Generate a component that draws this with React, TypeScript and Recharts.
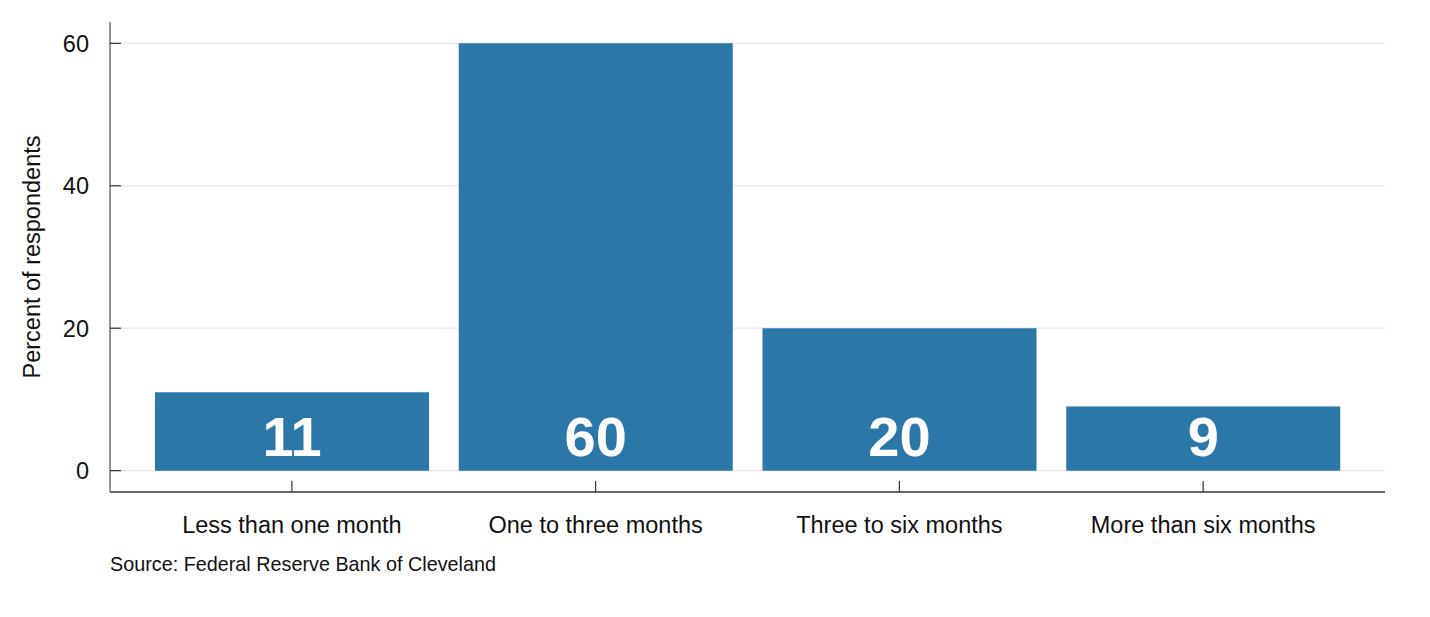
import React from "react";
import { BarChart, Bar, XAxis, YAxis, CartesianGrid, LabelList } from "recharts";

const categories = ["Less than one month", "One to three months", "Three to six months", "More than six months"];
const percents = [11, 60, 20, 9];
const yTicks = [0, 20, 40, 60];
const yDomain = [-3, 63];

const data = categories.map((c, i) => ({ name: c, value: percents[i] }));

const FONT = "Arial, 'Liberation Sans', Helvetica, sans-serif";
const BAR_COLOR = "#2a77a8";

const YTick = (props: any) => {
  const { x, y, payload } = props;
  return (
    <g>
      <line x1={x + 21} x2={x + 32} y1={y} y2={y} stroke="#333" strokeWidth={1.2} />
      <text x={x} y={y} dy="0.36em" textAnchor="end" fontSize={23.5} fontFamily={FONT} fill="#111">
        {payload.value}
      </text>
    </g>
  );
};

const XTick = (props: any) => {
  const { x, y, payload } = props;
  return (
    <g>
      <line x1={x} x2={x} y1={y} y2={y - 11} stroke="#333" strokeWidth={1.2} />
      <text x={x} y={y + 41} textAnchor="middle" fontSize={23.5} fontFamily={FONT} fill="#111">
        {payload.value}
      </text>
    </g>
  );
};

const BarValue = (props: any) => {
  const { x, y, width, height, value } = props;
  return (
    <text
      x={x + width / 2}
      y={y + height - 15}
      textAnchor="middle"
      fontSize={56}
      fontWeight="bold"
      fontFamily={FONT}
      fill="#ffffff"
    >
      {value}
    </text>
  );
};

const YTitle = (props: any) => {
  const { viewBox } = props;
  const cy = viewBox.y + viewBox.height / 2;
  return (
    <text
      x={32}
      y={cy}
      transform={`rotate(-90, 32, ${cy})`}
      textAnchor="middle"
      dominantBaseline="central"
      fontSize={23.5}
      fontFamily={FONT}
      fill="#111"
    >
      Percent of respondents
    </text>
  );
};

export default function App() {
  return (
    <div style={{ position: "absolute", left: 0, top: 0, width: 1430, height: 617, background: "#fff" }}>
      <BarChart
        width={1430}
        height={617}
        data={data}
        margin={{ top: 22, right: 45, bottom: 65, left: 30 }}
        barCategoryGap={15}
      >
        <CartesianGrid vertical={false} stroke="#e6e6e6" strokeWidth={1.3} horizontalValues={yTicks} />
        <XAxis
          dataKey="name"
          padding={{ left: 30, right: 30 }}
          height={60}
          tickSize={0}
          tickMargin={0}
          tick={<XTick />}
          axisLine={{ stroke: "#333", strokeWidth: 1.3 }}
          interval={0}
        />
        <YAxis
          type="number"
          domain={yDomain}
          ticks={yTicks}
          width={80}
          tickSize={0}
          tickMargin={21}
          tick={<YTick />}
          axisLine={{ stroke: "#7a7a7a", strokeWidth: 1.6 }}
          label={<YTitle />}
          allowDataOverflow
        />
        <Bar dataKey="value" fill={BAR_COLOR} isAnimationActive={false}>
          <LabelList dataKey="value" content={<BarValue />} />
        </Bar>
      </BarChart>
      <div
        style={{
          position: "absolute",
          left: 110,
          top: 553,
          fontSize: 19.8,
          fontFamily: FONT,
          color: "#111",
          whiteSpace: "nowrap",
        }}
      >
        Source: Federal Reserve Bank of Cleveland
      </div>
    </div>
  );
}
